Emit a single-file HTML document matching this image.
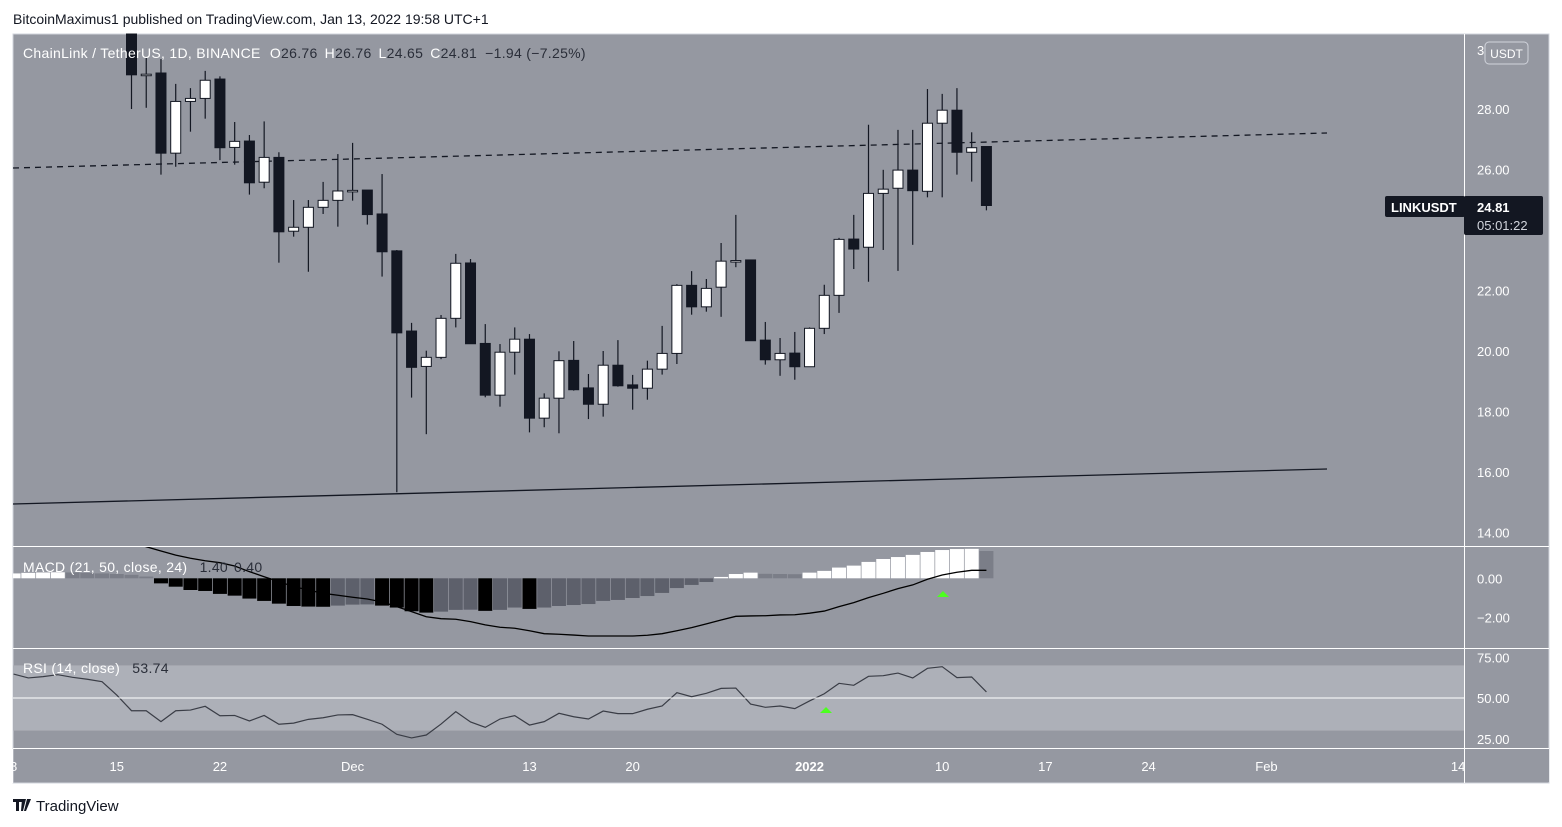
<!DOCTYPE html>
<html><head><meta charset="utf-8"><style>
html,body{margin:0;padding:0;background:#fff;width:1562px;height:827px;overflow:hidden}
svg{display:block;font-family:"Liberation Sans",sans-serif}
</style></head><body>
<svg id="chart" width="1562" height="827" viewBox="0 0 1562 827">
<rect x="0" y="0" width="1562" height="827" fill="#fff"/>
<text x="13" y="24" font-size="14" fill="#131722">BitcoinMaximus1 published on TradingView.com, Jan 13, 2022 19:58 UTC+1</text>
<rect x="13" y="34" width="1536" height="749" fill="#9598a1" stroke="#d1d4dc"/>
<rect x="13" y="665.4" width="1451" height="65.2" fill="#adb0b8"/>
<g id="g-lines"></g>
<g id="g-hist"></g>
<g id="g-candles"></g>
<g id="g-ind"></g>
<line x1="13" y1="546.5" x2="1549" y2="546.5" stroke="#fff"/>
<line x1="13" y1="648.5" x2="1549" y2="648.5" stroke="#fff"/>
<line x1="13" y1="748.5" x2="1549" y2="748.5" stroke="#fff"/>
<line x1="1464.5" y1="34" x2="1464.5" y2="783" stroke="#fff"/>
<g id="g-axis"></g>
<text x="23" y="58" font-size="14" letter-spacing="0.3" fill="#fff">ChainLink / TetherUS, 1D, BINANCE <tspan dx="5">O</tspan><tspan fill="#2a2e39">26.76</tspan><tspan dx="7">H</tspan><tspan fill="#2a2e39">26.76</tspan><tspan dx="7">L</tspan><tspan fill="#2a2e39">24.65</tspan><tspan dx="7">C</tspan><tspan fill="#2a2e39">24.81</tspan><tspan dx="8" fill="#2a2e39">−1.94 (−7.25%)</tspan></text>
<text x="23" y="572" font-size="14" letter-spacing="0.3" fill="#fff">MACD (21, 50, close, 24) <tspan dx="8" fill="#2a2e39">1.40</tspan><tspan dx="6" fill="#2a2e39">0.40</tspan></text>
<text x="23" y="673" font-size="14" letter-spacing="0.3" fill="#fff">RSI (14, close) <tspan dx="8" fill="#2a2e39">53.74</tspan></text>
<rect x="1485" y="42" width="43" height="22" rx="4" fill="#9598a1" stroke="#d1d4dc"/>
<text x="1506.5" y="58" font-size="12" fill="#fff" text-anchor="middle">USDT</text>
<rect x="1385" y="196" width="80" height="21" rx="2" fill="#131722"/>
<text x="1391" y="212" font-size="13" font-weight="bold" fill="#fff">LINKUSDT</text>
<rect x="1464" y="196" width="79" height="39" rx="2" fill="#131722"/>
<text x="1477" y="212" font-size="13" font-weight="bold" fill="#fff">24.81</text>
<text x="1477" y="230" font-size="13" fill="#d1d4dc">05:01:22</text>
<g>
<path d="M13 799h9v3h-3v9h-3v-9h-3z M22 799h4l-3 12h-2z M27 799h4l-5 12h-2z" fill="#131722"/>
<text x="36" y="811" font-size="15" fill="#131722">TradingView</text>
</g>
</svg>
<script>
// ---- data (day index 0 = Nov 16, 2021) ----
const opens  = [30.7,29.15,29.19,26.54,28.25,28.35,28.99,26.73,26.94,25.58,26.40,23.96,24.09,24.75,24.98,25.30,25.32,24.53,23.31,20.66,19.49,19.79,21.08,22.91,20.25,18.54,19.96,20.39,17.78,18.44,19.69,18.78,18.24,19.53,18.88,18.77,19.40,19.92,22.17,21.46,22.11,22.98,23.01,20.36,19.71,19.93,19.48,20.75,21.84,23.70,23.43,25.21,25.38,25.98,25.28,27.53,27.96,26.57,26.76];
const highs  = [31.0,29.70,29.65,28.83,28.69,29.26,29.08,27.57,27.14,27.59,26.57,24.99,24.99,25.59,26.51,26.88,25.32,25.85,23.34,20.93,20.01,21.19,23.21,23.04,20.89,20.23,20.78,20.56,18.60,19.99,20.33,19.24,20.00,20.36,19.21,19.68,20.83,22.21,22.64,22.38,23.57,24.50,23.01,20.96,20.43,20.63,20.78,22.19,23.74,24.50,27.48,25.99,27.31,27.31,28.66,28.50,28.69,27.23,26.76];
const lows   = [28.00,28.04,25.83,26.09,27.25,27.68,26.31,26.16,25.17,25.38,22.92,23.78,22.62,24.53,24.11,24.97,24.18,22.46,15.33,18.46,17.25,19.73,20.78,20.24,18.47,18.16,19.22,17.31,17.48,17.28,18.69,17.75,17.83,18.82,18.06,18.39,19.22,19.57,21.20,21.30,21.13,22.77,20.34,19.55,19.18,19.05,19.48,20.56,21.26,22.71,22.29,23.34,22.65,23.51,25.08,25.08,25.83,25.60,24.65];
const closes = [29.13,29.15,26.54,28.25,28.35,28.95,26.72,26.93,25.56,26.40,23.94,24.09,24.75,24.98,25.29,25.31,24.51,23.28,20.60,19.46,19.79,21.08,22.90,20.24,18.54,19.96,20.39,17.78,18.44,19.68,18.72,18.24,19.53,18.85,18.77,19.40,19.92,22.17,21.46,22.07,22.97,22.99,20.34,19.71,19.92,19.48,20.75,21.84,23.69,23.37,25.21,25.35,25.98,25.30,27.53,27.96,26.57,26.72,24.81];
// MACD histogram, day index -8 .. 58
const histogram = [0.25,0.28,0.30,0.31,0.30,0.27,0.25,0.22,0.18,0.09,-0.26,-0.43,-0.60,-0.65,-0.80,-0.89,-1.04,-1.16,-1.30,-1.42,-1.45,-1.46,-1.40,-1.35,-1.34,-1.40,-1.50,-1.69,-1.76,-1.71,-1.62,-1.61,-1.67,-1.62,-1.50,-1.57,-1.50,-1.42,-1.37,-1.32,-1.16,-1.11,-1.01,-0.91,-0.75,-0.50,-0.34,-0.19,0.07,0.22,0.29,0.23,0.22,0.21,0.29,0.38,0.55,0.65,0.84,0.99,1.09,1.20,1.35,1.45,1.50,1.51,1.40];
// MACD signal line, day index 0 .. 58
const signal = [1.85,1.62,1.40,1.19,1.03,0.90,0.80,0.63,0.34,0.08,-0.17,-0.43,-0.60,-0.77,-0.87,-0.97,-1.06,-1.21,-1.45,-1.71,-1.97,-2.07,-2.10,-2.22,-2.39,-2.51,-2.56,-2.69,-2.84,-2.87,-2.91,-2.96,-2.96,-2.96,-2.96,-2.92,-2.84,-2.69,-2.53,-2.34,-2.14,-1.95,-1.93,-1.92,-1.88,-1.87,-1.79,-1.68,-1.45,-1.25,-0.99,-0.77,-0.53,-0.34,-0.05,0.17,0.31,0.41,0.41];
// RSI, day index -8 .. 58
const rsi = [64.7,62.3,63.1,64.3,62.7,61.5,60.0,51.8,42.2,42.2,35.5,42.2,42.6,44.9,39.1,39.3,35.9,39.3,33.9,34.6,36.9,37.9,39.6,39.8,36.9,33.9,27.7,25.5,27.3,34.0,41.6,35.3,32.0,37.1,39.2,33.4,35.5,40.6,38.5,37.1,42.0,40.4,40.4,43.1,45.1,53.3,50.8,52.9,55.9,56.1,46.3,44.3,45.1,43.5,48.2,52.6,59.0,57.8,63.3,63.7,65.3,62.3,68.2,69.2,62.5,62.9,53.74];
const priceTicks = [28,26,24,22,20,18,16,14];
const macdTicks = [0,-2];
const rsiTicks = [75,50,25];
const dateLabels = ["8","15","22","Dec","13","20","2022","10","17","24","Feb","14"];
const dateOffsets = [-8,-1,6,15,27,34,46,55,62,69,77,90];
// ---- scales ----
const NS="http://www.w3.org/2000/svg";
function X(i){return 131.5+14.74*i;}
function PY(p){return 109+(28-p)*30.25;}
function MY(v){return 578.3-v*19.5;}
function RY(v){return 698-(v-50)*1.63;}
function mk(tag,attrs,parent){const e=document.createElementNS(NS,tag);for(const k in attrs)e.setAttribute(k,attrs[k]);parent.appendChild(e);return e;}
const gl=document.getElementById('g-lines'),gh=document.getElementById('g-hist'),gc=document.getElementById('g-candles'),gi=document.getElementById('g-ind'),ga=document.getElementById('g-axis');
let l1=mk('line',{x1:13,y1:168,x2:1327,y2:133,stroke:'#131722','stroke-width':1.3,'stroke-dasharray':'6 5'},gl);


let l2=mk('line',{x1:13,y1:504,x2:1327,y2:469,stroke:'#131722','stroke-width':1.3},gl);


for(let i=0;i<opens.length;i++){
  const x=X(i),o=opens[i],c=closes[i],up=c>=o;
  const g=mk('g',{},gc);
  
  
  mk('line',{x1:x,x2:x,y1:Math.max(PY(highs[i]),34),y2:PY(lows[i]),stroke:'#131722','stroke-width':1.2},g);
  const top=Math.max(PY(Math.max(o,c)),34),bot=PY(Math.min(o,c));
  mk('rect',{x:x-5,y:top,width:10,height:Math.max(bot-top,1.5),fill:up?'#ffffff':'#131722',stroke:'#131722','stroke-width':1},g);
}
for(let k=0;k<histogram.length;k++){
  const i=k-8,v=histogram[k],prev=k>0?histogram[k-1]:v;
  let col;
  if(v>=0) col=(v>=prev)?'#ffffff':'#7b7e88'; else col=(v<=prev)?'#000000':'#5d606b';
  const x0=Math.max(X(i)-7,13),x1=X(i)+7;
  const y0=Math.min(MY(v),MY(0)),h=Math.abs(MY(v)-MY(0));
  const r=mk('rect',{x:x0,y:y0,width:x1-x0,height:Math.max(h,1),fill:col},gh);
  
  
}
const cpath=mk('clipPath',{id:'macdclip'},gi);
mk('rect',{x:13,y:547,width:1451,height:101},cpath);
const sp=mk('polyline',{points:signal.map((v,i)=>X(i)+','+MY(v)).join(' '),fill:'none',stroke:'#000','stroke-width':1.3,'clip-path':'url(#macdclip)'},gi);


const rp=mk('polyline',{points:rsi.map((v,k)=>Math.max(X(k-8),13)+','+RY(v)).join(' '),fill:'none',stroke:'#3a3d46','stroke-width':1.2},gi);


const rm=mk('line',{x1:13,x2:1464,y1:RY(50),y2:RY(50),stroke:'#fff','stroke-width':1},gi);


const t1=mk('polygon',{points:'937,597 949,597 943,591',fill:'#4cff1f'},gi);


const t2=mk('polygon',{points:'820,713 832,713 826,707',fill:'#4cff1f'},gi);


function lbl(x,y,s,name,extra){const t=mk('text',Object.assign({x:x,y:y,'font-size':13,fill:'#fff'},extra||{}),ga);t.textContent=s;return t;}
lbl(1477,55,'3','price-tick-label');
priceTicks.forEach(p=>lbl(1477,PY(p)+5,p.toFixed(2),'price-tick-label'));
macdTicks.forEach(v=>lbl(1477,MY(v)+5,(v<0?'−':'')+Math.abs(v).toFixed(2),'macd-tick-label'));
rsiTicks.forEach(v=>lbl(1477,RY(v)+5,v.toFixed(2),'rsi-tick-label'));
dateLabels.forEach((s,k)=>{const x=X(dateOffsets[k]);if(x>1464)return;
  const t=lbl(x,771,s,'date-tick-label',{'text-anchor':'middle'});
  if(s==='2022')t.setAttribute('font-weight','bold');});
const cov=mk('rect',{x:0,y:749,width:13,height:34,fill:'#fff'},ga);


const cov2=mk('rect',{x:1465,y:749,width:84,height:33,fill:'#9598a1'},ga);


</script>
</body></html>
